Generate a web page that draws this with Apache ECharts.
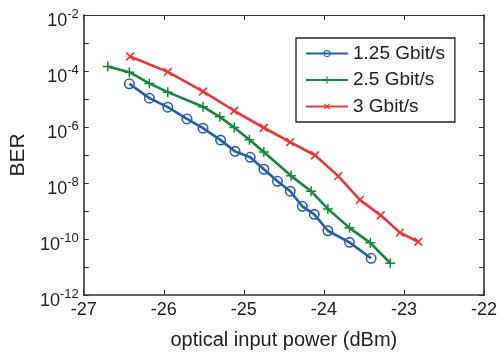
<!DOCTYPE html>
<html><head><meta charset="utf-8">
<script src="https://cdn.jsdelivr.net/npm/echarts@6/dist/echarts.min.js"></script>
<style>html,body{margin:0;padding:0;background:#fff}#c{width:500px;height:355px}</style>
</head><body><div id="c"></div>
<script>
const seriesNames = ['1.25 Gbit/s', '2.5 Gbit/s', '3 Gbit/s'];
const x125 = [-26.43, -26.18, -25.95, -25.71, -25.51, -25.29, -25.11, -24.92, -24.75, -24.58, -24.42, -24.27, -24.12, -23.95, -23.68, -23.41];
const ber125 = [3.5e-5, 1.07e-5, 5.1e-6, 1.94e-6, 9.1e-7, 3.4e-7, 1.35e-7, 8.3e-8, 3.1e-8, 1.15e-8, 5.1e-9, 1.47e-9, 7.6e-10, 1.97e-10, 7.6e-11, 2.05e-11];
const x25 = [-26.70, -26.43, -26.18, -25.95, -25.51, -25.30, -25.12, -24.93, -24.75, -24.41, -24.16, -23.95, -23.68, -23.42, -23.17];
const ber25 = [1.44e-4, 9.1e-5, 3.6e-5, 1.76e-5, 5.3e-6, 2.3e-6, 9.6e-7, 3.5e-7, 1.28e-7, 1.8e-8, 5.1e-9, 1.19e-9, 2.5e-10, 7.3e-11, 1.36e-11];
const x3 = [-26.42, -25.95, -25.51, -25.12, -24.75, -24.42, -24.11, -23.82, -23.55, -23.29, -23.05, -22.82];
const ber3 = [3.3e-4, 9.3e-5, 1.86e-5, 3.8e-6, 9.4e-7, 2.9e-7, 9.8e-8, 1.76e-8, 2.5e-9, 7.0e-10, 1.69e-10, 8.0e-11];
const xTicks = [-27, -26, -25, -24, -23, -22];
const yTickExps = [-12, -10, -8, -6, -4, -2];

const colors = ['#1f5fb0', '#12893b', '#ee3434'];
const ring = 'path://M0,-10A10,10 0 1,1 0,10A10,10 0 1,1 0,-10ZM0,-7.2A7.2,7.2 0 1,0 0,7.2A7.2,7.2 0 1,0 0,-7.2Z';
const plus = 'path://M-1.5,-10H1.5V-1.5H10V1.5H1.5V10H-1.5V1.5H-10V-1.5H-1.5Z';
const FONT = 'Liberation Sans, Arial, sans-serif';
const axisColor = '#333';

function pairs(xs, ys){ return xs.map((x,i)=>[x, ys[i]]); }

const chart = echarts.init(document.getElementById('c'), null, {renderer:'canvas'});
chart.setOption({
  animation: false,
  backgroundColor: '#fff',
  textStyle: {fontFamily: FONT},
  grid: {left: 76, right: 13, top: 15, bottom: 58, show: false},
  legend: {
    orient: 'vertical', left: 296, top: 38,
    data: seriesNames,
    itemWidth: 42, itemHeight: 9, itemGap: 7.5,
    padding: [6, 10, 6, 9],
    borderColor: '#222', borderWidth: 1.3, backgroundColor: '#fff',
    textStyle: {fontFamily: FONT, fontSize: 19, color: '#222'}
  },
  xAxis: [{
    type: 'value', min: -27, max: -22, interval: 1,
    name: 'optical input power (dBm)', nameLocation: 'middle', nameGap: 35,
    nameTextStyle: {fontFamily: FONT, fontSize: 20, color: '#222'},
    axisLine: {show: true, lineStyle: {color: axisColor, width: 1.6}},
    axisTick: {show: true, inside: true, length: 5, lineStyle: {color: axisColor, width: 1}},
    axisLabel: {fontFamily: FONT, fontSize: 18, color: '#222', margin: 6,
      formatter: v => xTicks.includes(v) ? String(v) : ''},
    splitLine: {show: false}
  }, {
    type: 'value', min: -27, max: -22, interval: 1, position: 'top',
    axisLine: {show: true, lineStyle: {color: axisColor, width: 1.2}},
    axisTick: {show: true, inside: true, length: 5, lineStyle: {color: axisColor, width: 1}},
    axisLabel: {show: false}, splitLine: {show: false}
  }],
  yAxis: [{
    type: 'log', min: Math.pow(10, yTickExps[0]), max: Math.pow(10, yTickExps[yTickExps.length-1]),
    logBase: 10, splitNumber: 5,
    name: 'BER', nameLocation: 'middle', nameGap: 47, nameRotate: 90,
    nameTextStyle: {fontFamily: FONT, fontSize: 21, color: '#222'},
    axisLine: {show: true, lineStyle: {color: axisColor, width: 1.6}},
    axisTick: {show: true, inside: true, length: 5, lineStyle: {color: axisColor, width: 1}},
    axisLabel: {
      margin: 5,
      padding: [8, 0, 0, 0],
      formatter: v => { const e = Math.round(Math.log10(v)); return yTickExps.includes(e) ? '{b|10}{s|' + e + '}' : ''; },
      rich: {
        b: {fontFamily: FONT, fontSize: 18, color: '#222', lineHeight: 22, verticalAlign: 'bottom'},
        s: {fontFamily: FONT, fontSize: 13, color: '#222', verticalAlign: 'top', lineHeight: 12}
      }
    },
    splitLine: {show: false}
  }, {
    type: 'log', min: Math.pow(10, yTickExps[0]), max: Math.pow(10, yTickExps[yTickExps.length-1]),
    logBase: 10, splitNumber: 5, position: 'right',
    axisLine: {show: true, lineStyle: {color: axisColor, width: 1.6}},
    axisTick: {show: true, inside: true, length: 5, lineStyle: {color: axisColor, width: 1}},
    axisLabel: {show: false}, splitLine: {show: false}
  }],
  series: [
    {name: seriesNames[0], type: 'line', data: pairs(x125, ber125), color: colors[0],
     symbol: ring, symbolSize: 11, lineStyle: {width: 2.6}, itemStyle: {color: colors[0]}, z: 3},
    {name: seriesNames[1], type: 'line', data: pairs(x25, ber25), color: colors[1],
     symbol: plus, symbolSize: 10, lineStyle: {width: 2.6}, itemStyle: {color: colors[1]}, z: 2},
    {name: seriesNames[2], type: 'line', data: pairs(x3, ber3), color: colors[2],
     symbol: plus, symbolRotate: 45, symbolSize: 11, lineStyle: {width: 2.6}, itemStyle: {color: colors[2]}, z: 1}
  ]
});
</script></body></html>
